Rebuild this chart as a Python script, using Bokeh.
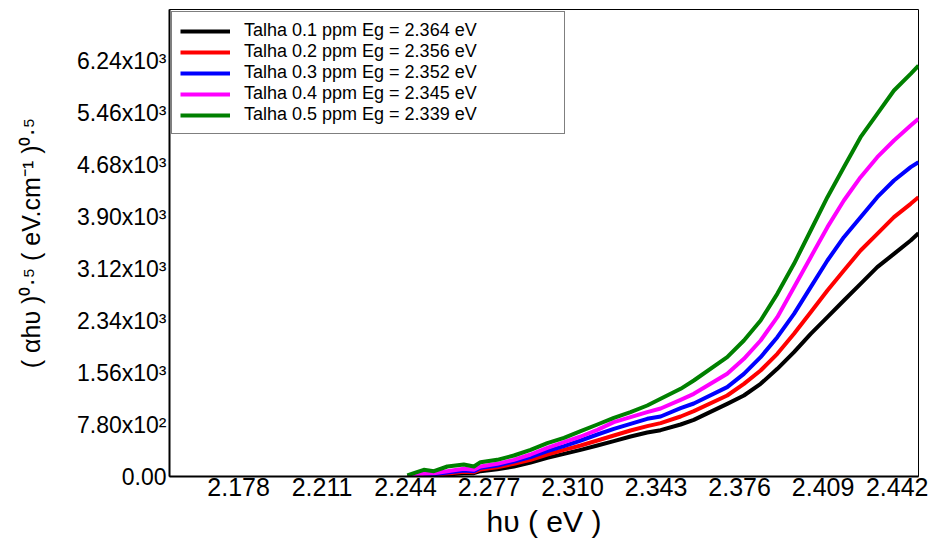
from bokeh.plotting import figure
from bokeh.models import FixedTicker, NumeralTickFormatter, Range1d, Legend, LegendItem
from bokeh.embed import file_html
from bokeh.resources import INLINE

# ---- data ----
energy = [2.2447, 2.2473, 2.2512, 2.2552, 2.2605, 2.2670, 2.2710, 2.2736, 2.2802, 2.2868,
          2.2934, 2.3000, 2.3066, 2.3132, 2.3198, 2.3263, 2.3329, 2.3395, 2.3448, 2.3527,
          2.3579, 2.3711, 2.3777, 2.3843, 2.3909, 2.3975, 2.4041, 2.4107, 2.4172, 2.4238,
          2.4304, 2.4370, 2.4436, 2.4467]

talha_01 = [0, 0, 10, 15, 30, 50, 50, 80, 110, 150, 210, 280, 340, 400, 465, 530, 600, 660,
            695, 780, 850, 1090, 1215, 1390, 1615, 1865, 2140, 2390, 2640, 2890, 3140, 3340,
            3540, 3650]
talha_02 = [0, 0, 20, 25, 45, 70, 65, 105, 140, 190, 250, 330, 400, 465, 540, 615, 690, 755,
            800, 900, 980, 1215, 1390, 1590, 1840, 2140, 2465, 2790, 3090, 3390, 3640, 3890,
            4090, 4190]
talha_03 = [0, 5, 30, 35, 60, 90, 80, 130, 165, 225, 290, 380, 455, 540, 630, 715, 790, 865,
            900, 1025, 1095, 1340, 1540, 1790, 2090, 2440, 2840, 3240, 3590, 3890, 4190, 4440,
            4640, 4715]
talha_04 = [0, 15, 40, 50, 80, 115, 100, 150, 190, 250, 330, 430, 515, 600, 700, 815, 890, 965,
            1020, 1150, 1240, 1540, 1765, 2040, 2390, 2840, 3290, 3740, 4140, 4490, 4790, 5040,
            5265, 5365]
talha_05 = [15, 50, 100, 80, 150, 180, 150, 215, 250, 315, 400, 500, 580, 680, 780, 880, 965,
            1065, 1165, 1315, 1440, 1790, 2040, 2340, 2740, 3190, 3690, 4190, 4640, 5090, 5440,
            5790, 6040, 6165]

series = [talha_01, talha_02, talha_03, talha_04, talha_05]
labels = ["Talha 0.1 ppm Eg = 2.364 eV", "Talha 0.2 ppm Eg = 2.356 eV",
          "Talha 0.3 ppm Eg = 2.352 eV", "Talha 0.4 ppm Eg = 2.345 eV",
          "Talha 0.5 ppm Eg = 2.339 eV"]
colors = ["black", "red", "blue", "magenta", "green"]

x_ticks = [2.178, 2.211, 2.244, 2.277, 2.310, 2.343, 2.376, 2.409, 2.442]
y_ticks = [0, 780, 1560, 2340, 3120, 3900, 4680, 5460, 6240]
y_tick_labels = ["0.00", "7.80x10\u00b2", "1.56x10\u00b3", "2.34x10\u00b3", "3.12x10\u00b3",
                 "3.90x10\u00b3", "4.68x10\u00b3", "5.46x10\u00b3", "6.24x10\u00b3"]

FONT = "Liberation Sans"

p = figure(frame_width=749, frame_height=467, output_backend="svg", toolbar_location=None,
           x_range=Range1d(2.1507, 2.4467), y_range=Range1d(0, 7005),
           min_border_left=169, min_border_top=9, min_border_right=10, min_border_bottom=58)
p.background_fill_color = "white"
p.border_fill_color = "white"
p.outline_line_color = "black"
p.outline_line_width = 1
p.xgrid.grid_line_color = None
p.ygrid.grid_line_color = None

items = []
for ys, lab, col in zip(series, labels, colors):
    r = p.line(energy, ys, line_color=col, line_width=4, line_join="round")
    items.append(LegendItem(label=lab, renderers=[r]))

legend = Legend(items=items, location="top_left")
legend.margin = 2
legend.padding = 8
legend.spacing = 0
legend.glyph_width = 50
legend.glyph_height = 18
legend.label_height = 18
legend.label_width = 312
legend.label_standoff = 14
legend.label_text_font = FONT
legend.label_text_font_size = "18px"
legend.label_text_line_height = 1.0
legend.label_text_color = "black"
legend.border_line_color = "black"
legend.border_line_width = 1
legend.background_fill_alpha = 1.0
p.add_layout(legend)

# x axis
p.xaxis.ticker = FixedTicker(ticks=x_ticks)
p.xaxis.formatter = NumeralTickFormatter(format="0.000")
p.xaxis.axis_label = "h\u03c5 ( eV )"
p.xaxis.axis_label_text_font = FONT
p.xaxis.axis_label_text_font_size = "30px"
p.xaxis.axis_label_text_font_style = "normal"
p.xaxis.axis_label_standoff = 6
p.xaxis.major_label_text_font = FONT
p.xaxis.major_label_text_font_size = "25px"
p.xaxis.major_label_standoff = 1

# y axis
p.yaxis.ticker = FixedTicker(ticks=y_ticks)
p.yaxis.major_label_overrides = {t: s for t, s in zip(y_ticks, y_tick_labels)}
p.yaxis.axis_label = "( \u03b1h\u03c5 )\u2070\u00b7\u2075 ( eV.cm\u207b\u00b9 )\u2070\u00b7\u2075"
p.yaxis.axis_label_text_font = FONT
p.yaxis.axis_label_text_font_size = "25px"
p.yaxis.axis_label_text_font_style = "normal"
p.yaxis.axis_label_standoff = 29
p.yaxis.major_label_text_font = FONT
p.yaxis.major_label_text_font_size = "23px"
p.yaxis.major_label_standoff = 3

for ax in (p.xaxis, p.yaxis):
    ax.axis_line_width = 2
    ax.axis_line_color = "black"
    ax.major_tick_in = 0
    ax.major_tick_out = 0
    ax.minor_tick_line_color = None
    ax.major_label_text_color = "black"
    ax.axis_label_text_color = "black"

open("out.html", "w").write(file_html(p, INLINE))
